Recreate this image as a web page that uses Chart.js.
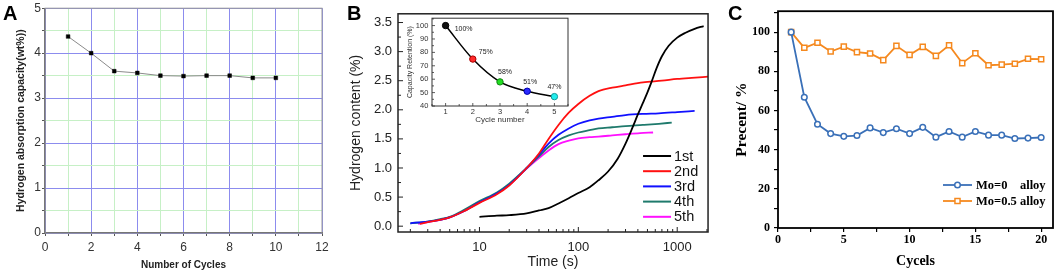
<!DOCTYPE html>
<html>
<head>
<meta charset="utf-8">
<script src="https://cdn.jsdelivr.net/npm/chart.js@4.4.1/dist/chart.umd.min.js"></script>
<style>
  html, body { margin: 0; padding: 0; background: #fff; }
  #wrap { position: relative; width: 1059px; height: 272px; overflow: hidden; }
  canvas { position: absolute; }
  .tag { position: absolute; font: bold 20px "Liberation Sans", Arial, sans-serif; line-height: 1; color: #000; z-index: 5; }
</style>
</head>
<body>
<div id="wrap">
  <canvas id="chartA" width="340" height="272" style="left:0;top:0"></canvas>
  <canvas id="chartB" width="375" height="272" style="left:340px;top:0"></canvas>
  <canvas id="chartInset" width="175" height="117" style="left:400px;top:10px"></canvas>
  <canvas id="chartC" width="339" height="272" style="left:720px;top:0"></canvas>
  <div class="tag" style="left:3px;top:3px">A</div>
  <div class="tag" style="left:347px;top:3px">B</div>
  <div class="tag" style="left:728px;top:3px">C</div>
</div>
<script>
// ---- panel A : absorption capacity per cycle
const cyclesA = [1, 2, 3, 4, 5, 6, 7, 8, 9, 10];
const capacityA = [4.37, 4.0, 3.6, 3.56, 3.5, 3.49, 3.5, 3.5, 3.45, 3.45];

// ---- panel B : hydrogen content vs time (log s)
const cycleNames = ['1st', '2nd', '3rd', '4th', '5th'];
const time1st = [10, 15, 20, 30, 40, 50, 63, 80, 100, 130, 160, 200, 250, 300, 350, 400, 450, 500, 550, 620, 700, 820, 1000, 1200, 1500, 1850];
const h1st = [0.16, 0.18, 0.19, 0.22, 0.27, 0.31, 0.39, 0.48, 0.57, 0.67, 0.79, 0.94, 1.16, 1.42, 1.68, 1.92, 2.12, 2.3, 2.48, 2.72, 2.92, 3.1, 3.24, 3.32, 3.39, 3.44];
const time2nd = [2.5, 3, 4, 5, 7, 10, 15, 20, 30, 40, 50, 63, 80, 100, 130, 160, 220, 300, 450, 700, 1000, 1400, 2050];
const h2nd = [0.04, 0.07, 0.11, 0.15, 0.26, 0.4, 0.55, 0.7, 1.0, 1.25, 1.5, 1.74, 1.95, 2.1, 2.24, 2.32, 2.38, 2.42, 2.47, 2.5, 2.53, 2.55, 2.57];
const time3rd = [2, 3, 4, 5, 7, 10, 15, 20, 30, 40, 50, 63, 80, 100, 130, 160, 220, 300, 450, 650, 1000, 1500];
const h3rd = [0.05, 0.08, 0.11, 0.15, 0.26, 0.41, 0.56, 0.71, 1.0, 1.23, 1.42, 1.57, 1.68, 1.76, 1.82, 1.85, 1.88, 1.91, 1.93, 1.94, 1.96, 1.98];
const time4th = [2, 3, 4, 5, 7, 10, 15, 20, 30, 40, 50, 63, 80, 100, 130, 160, 220, 300, 450, 650, 880];
const h4th = [0.05, 0.08, 0.12, 0.16, 0.28, 0.43, 0.58, 0.73, 1.0, 1.2, 1.36, 1.48, 1.56, 1.61, 1.65, 1.68, 1.7, 1.72, 1.74, 1.76, 1.78];
const time5th = [2.4, 3, 4, 5, 7, 10, 15, 20, 30, 40, 50, 63, 80, 100, 130, 160, 220, 300, 420, 570];
const h5th = [0.04, 0.07, 0.11, 0.15, 0.26, 0.41, 0.56, 0.71, 0.99, 1.17, 1.3, 1.41, 1.47, 1.51, 1.53, 1.54, 1.56, 1.58, 1.6, 1.61];

// inset: capacity retention
const insetCycles = [1, 2, 3, 4, 5];
const retention = [100, 75, 58, 51, 47];

// ---- panel C : Mo=0 vs Mo=0.5 alloy
const cyclesC = [1, 2, 3, 4, 5, 6, 7, 8, 9, 10, 11, 12, 13, 14, 15, 16, 17, 18, 19, 20];
const mo0 = [100, 66.8, 53, 48.2, 46.8, 47.2, 51.1, 48.7, 50.7, 48.2, 51.4, 46.4, 49.3, 46.4, 49.3, 47.4, 47.4, 45.7, 45.9, 46.2];
const mo05 = [100, 92, 94.6, 90.1, 92.6, 89.8, 89.1, 85.7, 93, 88.4, 92.5, 87.9, 93.3, 84.2, 89.2, 83.1, 83.4, 83.9, 86.4, 86.2];
const seriesC = ['Mo=0    alloy', 'Mo=0.5 alloy'];

const SANS = '"Liberation Sans", Arial, sans-serif';
const SERIF = '"Liberation Serif", "Times New Roman", serif';

function zip(xs, ys) { return xs.map((x, i) => ({ x: x, y: ys[i] })); }
function steps(from, to, step) {
  const out = [];
  for (let v = from; v <= to + 1e-9; v += step) out.push({ value: Math.round(v * 1000) / 1000 });
  return out;
}
function isMult(v, m) { return Math.abs(v / m - Math.round(v / m)) < 1e-6; }

// box around the plot area
const frame = {
  id: 'frame',
  afterDraw(chart, args, opts) {
    const { ctx, chartArea: a } = chart;
    ctx.save();
    ctx.strokeStyle = opts.color;
    ctx.lineWidth = opts.width;
    ctx.strokeRect(a.left, a.top, a.right - a.left, a.bottom - a.top);
    ctx.restore();
  }
};

// small tick marks pointing into the plot
const innerTicks = {
  id: 'innerTicks',
  afterDraw(chart, args, opts) {
    const { ctx, chartArea: a } = chart;
    const sx = chart.scales.x, sy = chart.scales.y;
    ctx.save();
    ctx.strokeStyle = opts.color;
    ctx.lineWidth = opts.width;
    ctx.beginPath();
    sx.ticks.forEach((t, i) => {
      const px = sx.getPixelForTick(i);
      const len = t.label !== '' ? opts.major : opts.minor;
      ctx.moveTo(px, a.bottom); ctx.lineTo(px, a.bottom - len);
    });
    sy.ticks.forEach((t, i) => {
      const py = sy.getPixelForTick(i);
      const len = t.label !== '' ? opts.major : opts.minor;
      ctx.moveTo(a.left, py); ctx.lineTo(a.left + len, py);
    });
    ctx.stroke();
    ctx.restore();
  }
};

// ================= A =================
const gridBlue = '#8c8cee';
const gridGreen = '#c6f0c6';
new Chart(document.getElementById('chartA'), {
  type: 'line',
  data: {
    datasets: [{
      data: zip(cyclesA, capacityA),
      borderColor: '#8a8a8a',
      borderWidth: 1,
      pointStyle: 'rect',
      pointRadius: 2.6,
      pointBackgroundColor: '#000',
      pointBorderColor: '#000',
      pointBorderWidth: 0.5
    }]
  },
  plugins: [frame],
  options: {
    responsive: false,
    animation: false,
    layout: { padding: { left: 0, right: 18, top: 7, bottom: 0 } },
    plugins: { legend: { display: false }, tooltip: { enabled: false }, frame: { color: '#999', width: 1 } },
    scales: {
      x: {
        type: 'linear', min: 0, max: 12,
        afterBuildTicks: s => { s.ticks = steps(0, 12, 1); },
        afterFit: s => { s.height = 39; },
        grid: { color: c => (c.tick && c.tick.value % 2 === 0) ? gridBlue : gridGreen,
                drawTicks: true, tickLength: 3, tickColor: '#555' },
        border: { display: true, color: '#555', width: 1.3, z: 1 },
        ticks: { autoSkip: false, maxRotation: 0, padding: 4, color: '#333', font: { family: SANS, size: 12 },
                 callback: v => (v % 2 === 0 ? String(v) : '') },
        title: { display: true, text: 'Number of Cycles', color: '#222', font: { family: SANS, size: 10, weight: 'bold' }, padding: { top: 0, bottom: 1 } }
      },
      y: {
        min: 0, max: 5,
        afterBuildTicks: s => { s.ticks = steps(0, 5, 0.5); },
        afterFit: s => { s.width = 45; },
        grid: { color: c => (c.tick && isMult(c.tick.value, 1)) ? gridBlue : gridGreen,
                drawTicks: true, tickLength: 3, tickColor: '#555' },
        border: { display: true, color: '#555', width: 1.3, z: 1 },
        ticks: { autoSkip: false, padding: 1, color: '#333', font: { family: SANS, size: 12 },
                 callback: v => (isMult(v, 1) ? String(v) : '') },
        title: { display: true, text: 'Hydrogen absorption capacity(wt%))', color: '#222', font: { family: SANS, size: 10.5, weight: 'bold' }, padding: { top: 15, bottom: 0 } }
      }
    }
  }
});

// ================= B =================
const lineColors = ['#000000', '#ff1010', '#1010ff', '#1f7a6c', '#ff10ff'];
const timesB = [time1st, time2nd, time3rd, time4th, time5th];
const valuesB = [h1st, h2nd, h3rd, h4th, h5th];

const legendB = {
  id: 'legendB',
  afterDraw(chart) {
    const { ctx, chartArea: a } = chart;
    ctx.save();
    ctx.font = '14.5px ' + SANS;
    ctx.textBaseline = 'middle';
    chart.data.datasets.forEach((ds, i) => {
      const y = a.bottom - 76 + i * 15.2;
      const x0 = a.right - 65;
      ctx.strokeStyle = ds.borderColor;
      ctx.lineWidth = 2;
      ctx.beginPath(); ctx.moveTo(x0, y); ctx.lineTo(x0 + 28, y); ctx.stroke();
      ctx.fillStyle = '#111';
      ctx.fillText(ds.label, x0 + 31, y + 0.5);
    });
    ctx.restore();
  }
};

new Chart(document.getElementById('chartB'), {
  type: 'line',
  data: {
    datasets: cycleNames.map((name, i) => ({
      label: name,
      data: zip(timesB[i], valuesB[i]),
      borderColor: lineColors[i],
      borderWidth: 1.8,
      pointRadius: 0,
      cubicInterpolationMode: 'monotone'
    }))
  },
  plugins: [frame, innerTicks, legendB],
  options: {
    responsive: false,
    animation: false,
    layout: { padding: { left: 0, right: 5, top: 10, bottom: 0 } },
    plugins: {
      legend: { display: false }, tooltip: { enabled: false },
      frame: { color: '#222', width: 1.5 },
      innerTicks: { color: '#222', width: 1, major: 5, minor: 3 }
    },
    scales: {
      x: {
        type: 'logarithmic', min: 1.5, max: 2050,
        afterBuildTicks: s => {
          const t = [];
          [1, 10, 100, 1000].forEach(d => { for (let m = 1; m <= 9; m++) { const v = m * d; if (v >= 1.5 && v <= 2050) t.push({ value: v }); } });
          s.ticks = t;
        },
        afterFit: s => { s.height = 40; },
        grid: { display: false, drawTicks: false },
        border: { display: false },
        ticks: { autoSkip: false, maxRotation: 0, padding: 8, color: '#222', font: { family: SANS, size: 13 },
                 callback: v => ([10, 100, 1000].includes(v) ? String(v) : '') },
        title: { display: true, text: 'Time (s)', color: '#222', font: { family: SANS, size: 14 }, padding: { top: 0, bottom: 1 } }
      },
      y: {
        min: -0.1, max: 3.65,
        afterBuildTicks: s => { s.ticks = steps(0, 3.5, 0.25); },
        afterFit: s => { s.width = 58; },
        grid: { display: false, drawTicks: false },
        border: { display: false },
        ticks: { autoSkip: false, padding: 6, color: '#222', font: { family: SANS, size: 13 },
                 callback: v => (isMult(v, 0.5) ? v.toFixed(1) : '') },
        title: { display: true, text: 'Hydrogen content (%)', color: '#222', font: { family: SANS, size: 14 }, padding: { top: 7.6, bottom: 0 } }
      }
    }
  }
});

// ================= B inset =================
const dotColors = ['#111111', '#ff2a2a', '#22dd22', '#2a2aff', '#22eeee'];
const dotEdges = ['#000000', '#aa0000', '#118811', '#0000aa', '#119999'];
const labelShift = [[18, 3], [13, -7], [5, -10], [3, -9], [0, -10]];
const pctLabels = {
  id: 'pctLabels',
  afterDatasetsDraw(chart) {
    const { ctx } = chart;
    const meta = chart.getDatasetMeta(0);
    ctx.save();
    ctx.font = '7px ' + SANS;
    ctx.fillStyle = '#222';
    ctx.textAlign = 'center';
    ctx.textBaseline = 'middle';
    meta.data.forEach((pt, i) => {
      ctx.fillText(retention[i] + '%', pt.x + labelShift[i][0], pt.y + labelShift[i][1]);
    });
    ctx.restore();
  }
};
const whiteArea = {
  id: 'whiteArea',
  beforeDraw(chart) {
    const { ctx, chartArea: a } = chart;
    ctx.save(); ctx.fillStyle = '#fff';
    ctx.fillRect(a.left, a.top, a.right - a.left, a.bottom - a.top);
    ctx.restore();
  }
};

new Chart(document.getElementById('chartInset'), {
  type: 'line',
  data: {
    datasets: [{
      data: zip(insetCycles, retention),
      borderColor: '#000',
      borderWidth: 1.5,
      cubicInterpolationMode: 'monotone',
      pointRadius: 3.2,
      pointBackgroundColor: dotColors,
      pointBorderColor: dotEdges,
      pointBorderWidth: 1
    }]
  },
  plugins: [whiteArea, frame, innerTicks, pctLabels],
  options: {
    responsive: false,
    animation: false,
    layout: { padding: { left: 0, right: 7, top: 5, bottom: 0 } },
    plugins: {
      legend: { display: false }, tooltip: { enabled: false },
      frame: { color: '#333', width: 1 },
      innerTicks: { color: '#333', width: 0.8, major: 3, minor: 2 }
    },
    scales: {
      x: {
        type: 'linear', min: 0.5, max: 5.5,
        afterBuildTicks: s => { s.ticks = steps(0.5, 5.5, 0.5); },
        afterFit: s => { s.height = 21; },
        grid: { display: false, drawTicks: false },
        border: { display: false },
        ticks: { autoSkip: false, maxRotation: 0, padding: 1, color: '#333', font: { family: SANS, size: 7.5 },
                 callback: v => (isMult(v, 1) ? String(v) : '') },
        title: { display: true, text: 'Cycle number', color: '#333', font: { family: SANS, size: 8 }, padding: { top: 0, bottom: 2 } }
      },
      y: {
        min: 40, max: 105.5,
        afterBuildTicks: s => { s.ticks = steps(40, 105, 5); },
        afterFit: s => { s.width = 32; },
        grid: { display: false, drawTicks: false },
        border: { display: false },
        ticks: { autoSkip: false, padding: 3.7, color: '#333', font: { family: SANS, size: 7.5 },
                 callback: v => (isMult(v, 10) ? String(v) : '') },
        title: { display: true, text: 'Capacity Retention (%)', color: '#333', font: { family: SANS, size: 7 }, padding: { top: 5.8, bottom: 0 } }
      }
    }
  }
});

// ================= C =================
const blueC = '#3a70b8';
const orangeC = '#f5891f';

const legendC = {
  id: 'legendC',
  afterDraw(chart) {
    const { ctx, chartArea: a } = chart;
    ctx.save();
    ctx.font = 'bold 12.5px ' + SERIF;
    ctx.textBaseline = 'middle';
    chart.data.datasets.forEach((ds, i) => {
      const y = a.bottom - 43 + i * 16;
      const x0 = a.right - 110;
      ctx.strokeStyle = ds.borderColor;
      ctx.lineWidth = 1.8;
      ctx.beginPath(); ctx.moveTo(x0, y); ctx.lineTo(x0 + 29, y); ctx.stroke();
      ctx.fillStyle = '#fff';
      ctx.lineWidth = ds.pointBorderWidth;
      Chart.helpers.drawPoint(ctx, { pointStyle: ds.pointStyle, radius: ds.pointRadius, borderWidth: ds.pointBorderWidth }, x0 + 14.5, y);
      ctx.fillStyle = '#000';
      ctx.fillText(ds.label, x0 + 33, y + 0.5);
    });
    ctx.restore();
  }
};

new Chart(document.getElementById('chartC'), {
  type: 'line',
  data: {
    datasets: [
      { label: seriesC[0], data: zip(cyclesC, mo0), borderColor: blueC, borderWidth: 1.8,
        pointStyle: 'circle', pointRadius: 2.8, pointBackgroundColor: '#fff', pointBorderColor: blueC, pointBorderWidth: 1.5 },
      { label: seriesC[1], data: zip(cyclesC, mo05), borderColor: orangeC, borderWidth: 1.8,
        pointStyle: 'rect', pointRadius: 3.6, pointBackgroundColor: '#fff', pointBorderColor: orangeC, pointBorderWidth: 1.5 }
    ]
  },
  plugins: [frame, legendC],
  options: {
    responsive: false,
    animation: false,
    layout: { padding: { left: 0, right: 6, top: 8, bottom: 0 } },
    plugins: { legend: { display: false }, tooltip: { enabled: false }, frame: { color: '#000', width: 1.8 } },
    scales: {
      x: {
        type: 'linear', min: 0, max: 20.9,
        afterBuildTicks: s => { s.ticks = steps(0, 20, 2.5); },
        afterFit: s => { s.height = 44; },
        grid: { drawOnChartArea: false, drawTicks: true, tickLength: 4, tickColor: '#000', lineWidth: 1.2 },
        border: { display: false },
        ticks: { autoSkip: false, maxRotation: 0, padding: 1, color: '#000', font: { family: SERIF, size: 12, weight: 'bold' },
                 callback: v => (isMult(v, 5) ? String(v) : '') },
        title: { display: true, text: 'Cycels', color: '#000', font: { family: SERIF, size: 14, weight: 'bold' }, padding: { top: 0, bottom: 2 } }
      },
      y: {
        min: 0, max: 110.7,
        afterBuildTicks: s => { s.ticks = steps(0, 110, 10); },
        afterFit: s => { s.width = 58; },
        grid: { drawOnChartArea: false, drawTicks: true, tickLength: 4, tickColor: '#000', lineWidth: 1.2 },
        border: { display: false },
        ticks: { autoSkip: false, padding: 4, color: '#000', font: { family: SERIF, size: 12, weight: 'bold' },
                 callback: v => (isMult(v, 20) && v <= 100 ? String(v) : '') },
        title: { display: true, text: 'Precent/ %', color: '#000', font: { family: SERIF, size: 15.5, weight: 'bold' }, padding: { top: 13, bottom: 0 } }
      }
    }
  }
});
</script>
</body>
</html>
